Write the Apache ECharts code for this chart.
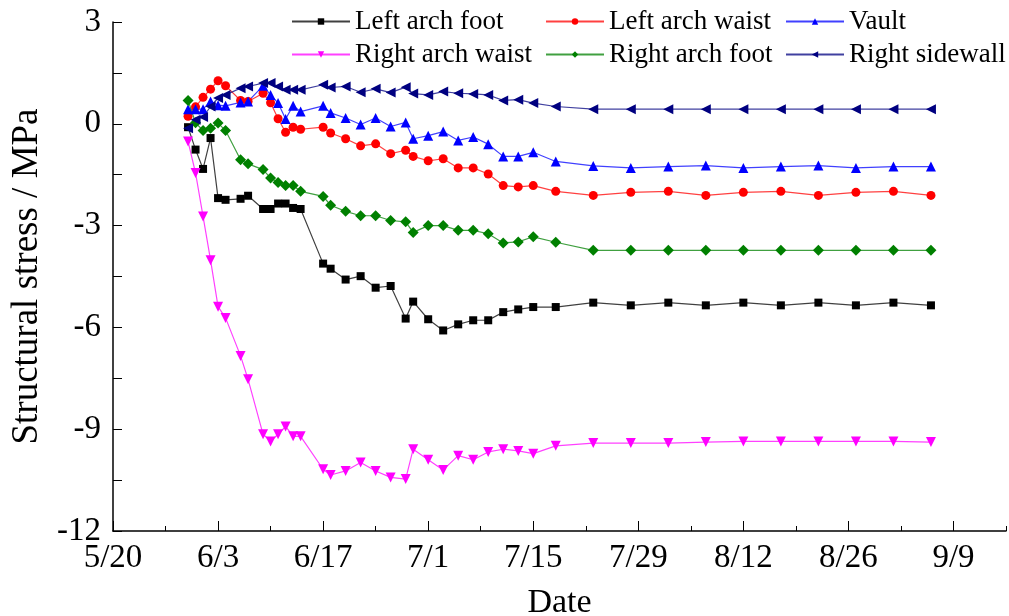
<!DOCTYPE html>
<html>
<head>
<meta charset="utf-8">
<script src="https://cdn.jsdelivr.net/npm/echarts@6/dist/echarts.min.js"></script>
<style>
html,body{margin:0;padding:0;background:#fff;}
#chart{width:1009px;height:616px;}
</style>
</head>
<body>
<div id="chart"></div>
<script>
// Days after 5/20
const days = [10,11,12,13,14,15,17,18,20,21,22,23,24,25,28,29,31,33,35,37,39,40,42,44,46,48,50,52,54,56,59,64,69,74,79,84,89,94,99,104,109];
const xTickLabels = ['5/20','6/3','6/17','7/1','7/15','7/29','8/12','8/26','9/9'];
const xTickDays = [0,14,28,42,56,70,84,98,112];
const seriesNames = ['Left arch foot','Left arch waist','Vault','Right arch waist','Right arch foot','Right sidewall'];

const leftArchFoot = [-0.1,-0.76,-1.33,-0.42,-2.19,-2.24,-2.21,-2.12,-2.51,-2.51,-2.35,-2.35,-2.48,-2.51,-4.12,-4.27,-4.59,-4.49,-4.83,-4.78,-5.74,-5.24,-5.76,-6.09,-5.91,-5.79,-5.79,-5.55,-5.47,-5.40,-5.40,-5.27,-5.35,-5.27,-5.35,-5.27,-5.35,-5.27,-5.35,-5.27,-5.35];
const leftArchWaist = [0.22,0.5,0.78,1.02,1.27,1.12,0.69,0.66,0.9,0.62,0.15,-0.25,-0.1,-0.16,-0.1,-0.27,-0.44,-0.65,-0.59,-0.88,-0.78,-0.96,-1.09,-1.03,-1.3,-1.3,-1.48,-1.82,-1.86,-1.82,-1.99,-2.11,-2.02,-1.99,-2.11,-2.02,-1.99,-2.11,-2.02,-1.99,-2.11];
const vault = [0.43,0.43,0.43,0.66,0.55,0.53,0.63,0.66,1.12,0.85,0.61,0.14,0.53,0.36,0.53,0.32,0.17,-0.02,0.17,-0.08,0.04,-0.44,-0.35,-0.23,-0.49,-0.39,-0.6,-0.96,-0.96,-0.84,-1.11,-1.24,-1.3,-1.26,-1.23,-1.3,-1.26,-1.23,-1.3,-1.26,-1.26];
const rightArchWaist = [-0.52,-1.45,-2.73,-4.02,-5.39,-5.72,-6.84,-7.53,-9.15,-9.36,-9.15,-8.92,-9.21,-9.21,-10.18,-10.35,-10.23,-9.98,-10.23,-10.42,-10.47,-9.59,-9.9,-10.2,-9.78,-9.9,-9.67,-9.59,-9.64,-9.72,-9.49,-9.41,-9.41,-9.41,-9.38,-9.36,-9.36,-9.36,-9.36,-9.36,-9.38];
const rightArchFoot = [0.69,0.03,-0.2,-0.13,0.02,-0.2,-1.06,-1.18,-1.35,-1.6,-1.73,-1.82,-1.82,-1.99,-2.14,-2.4,-2.58,-2.71,-2.71,-2.85,-2.89,-3.2,-3.0,-3.0,-3.14,-3.14,-3.24,-3.51,-3.48,-3.33,-3.49,-3.73,-3.73,-3.73,-3.73,-3.73,-3.73,-3.73,-3.73,-3.73,-3.73];
const rightSidewall = [-0.13,0.12,0.2,0.51,0.76,0.85,1.05,1.1,1.2,1.2,1.1,1.0,1.0,1.0,1.15,1.07,1.1,0.93,1.03,0.92,1.08,0.89,0.85,0.95,0.9,0.88,0.85,0.69,0.71,0.61,0.51,0.43,0.43,0.43,0.43,0.43,0.43,0.43,0.43,0.43,0.43];

const valuesList = [leftArchFoot,leftArchWaist,vault,rightArchWaist,rightArchFoot,rightSidewall];
const colors = ['#000000','#ff0000','#0000ff','#ff00ff','#008000','#000080'];
const symbols = ['rect','circle','triangle','triangle','diamond','triangle'];
const rotates = [0,0,0,180,0,90];
const sizes = [8,9,10,10,11,10];

const FONT = '"Liberation Serif","Times New Roman",serif';

const series = seriesNames.map((n,i)=>({
  name:n, type:'line',
  data: days.map((d,k)=>[d, valuesList[i][k]]),
  symbol: symbols[i], symbolRotate: rotates[i], symbolSize: sizes[i],
  showAllSymbol:true,
  itemStyle:{color:colors[i]},
  lineStyle:{color:colors[i], width:1.2, opacity:0.75},
  z: 2
}));

const legendPos = [[291,8],[545,8],[785,8],[291,41],[545,41],[785,41]];
const legends = seriesNames.map((n,i)=>({
  data:[n], left:legendPos[i][0], top:legendPos[i][1], padding:0,
  itemWidth:58, itemHeight:8, itemGap:0, selectedMode:false,
  textStyle:{fontFamily:FONT, fontSize:27, color:'#000'}
}));

const chart = echarts.init(document.getElementById('chart'));
chart.setOption({
  animation:false,
  backgroundColor:'#fff',
  legend: legends,
  grid:{left:113, top:22, right:3, bottom:85, containLabel:false, outerBoundsMode:'none'},
  xAxis:[{
    type:'value', min:0, max:119, interval:7,
    axisLine:{show:true, onZero:false, lineStyle:{color:'#000', width:1.5}},
    axisTick:{show:true, inside:true, length:5, lineStyle:{color:'#000'}},
    splitLine:{show:false},
    axisLabel:{
      margin:11, color:'#000', fontFamily:FONT, fontSize:33,
      formatter:(v)=>{ const k = xTickDays.indexOf(v); return k>=0 ? xTickLabels[k] : ''; }
    },
    name:'Date', nameLocation:'middle', nameGap:55,
    nameTextStyle:{fontFamily:FONT, fontSize:34, color:'#000'}
  },{
    type:'value', min:0, max:119, interval:14,
    position:'bottom',
    axisLine:{show:false, onZero:false},
    axisTick:{show:true, inside:true, length:10, lineStyle:{color:'#000'}, customValues:xTickDays},
    axisLabel:{show:false},
    splitLine:{show:false}
  }],
  yAxis:{
    type:'value', min:-12, max:3, interval:3,
    axisLine:{show:true, onZero:false, lineStyle:{color:'#000', width:1.5}},
    axisTick:{show:true, inside:true, length:9, lineStyle:{color:'#000'}},
    minorTick:{show:true, splitNumber:2, length:9, lineStyle:{color:'#000'}},
    splitLine:{show:false},
    axisLabel:{margin:12, color:'#000', fontFamily:FONT, fontSize:33},
    name:'Structural stress / MPa', nameLocation:'middle', nameGap:66,
    nameTextStyle:{fontFamily:FONT, fontSize:37, color:'#000'}
  },
  series: series
});
</script>
</body>
</html>
